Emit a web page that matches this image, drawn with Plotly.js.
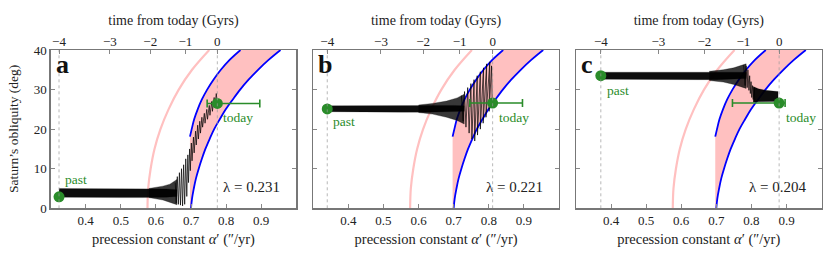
<!DOCTYPE html>
<html>
<head>
<meta charset="utf-8">
<script src="https://cdn.plot.ly/plotly-3.0.1.min.js"></script>
<style>html,body{margin:0;padding:0;background:#fff;}#chart{width:831px;height:254px;}</style>
</head>
<body>
<div id="chart"></div>
<script>
// ---------- data ----------
const alphaTicks = [0.4, 0.5, 0.6, 0.7, 0.8, 0.9];
const obliquityTicks = [0, 10, 20, 30, 40];
const timeTickText = ['\u22124', '\u22123', '\u22122', '\u22121', '0'];
const timeTickAlphaA = [0.324, 0.469, 0.584, 0.684, 0.775];
const timeTickAlphaB = [0.340, 0.493, 0.613, 0.717, 0.811];
const timeTickAlphaC = [0.371, 0.535, 0.666, 0.777, 0.879];

// light pink resonance curve (obliquity, alpha)
const pinkCurveEps = [0, 5, 10, 15, 20, 25, 30, 35, 40];
const pinkCurveAlpha = [0.576, 0.578, 0.585, 0.596, 0.613, 0.636, 0.665, 0.703, 0.752];

// blue separatrix curves
const outerEps = [0, 2.5, 5, 7.5, 10, 12.5, 15, 17.5, 20, 22.5, 25, 27.5, 30, 32.5, 35, 37.5, 40];
const outerAlpha = [0.700, 0.703, 0.708, 0.714, 0.722, 0.731, 0.741, 0.753, 0.766, 0.782, 0.799, 0.819, 0.840, 0.864, 0.891, 0.921, 0.955];
const innerEps = [18.1, 20, 22.5, 25, 27.5, 30, 32.5, 35, 37.5, 40];
const innerAlpha = [0.697, 0.702, 0.709, 0.719, 0.731, 0.746, 0.764, 0.785, 0.810, 0.841];

// observed present-day alpha range
const todayAlphaRange = [0.746, 0.896];

// panel a trajectory
const pastA = [0.324, 2.9], todayA = [0.775, 26.5];
const coreAAlpha = [0.324, 0.40, 0.50, 0.56, 0.60, 0.63, 0.66];
const coreAUpper = [5.0, 5.0, 5.0, 5.0, 5.0, 4.9, 4.7];
const coreALower = [2.8, 2.8, 2.7, 2.7, 2.7, 2.8, 3.0];
const flareAAlpha = [0.58, 0.60, 0.62, 0.64, 0.65, 0.66];
const flareAUpper = [5.0, 5.3, 5.6, 6.1, 6.6, 7.3];
const flareALower = [2.7, 2.4, 2.1, 1.6, 1.2, 0.9];
const zigAAlpha = [0.655, 0.658, 0.661, 0.664, 0.667, 0.670, 0.673, 0.676, 0.679, 0.682, 0.685, 0.688, 0.691, 0.693, 0.696, 0.698, 0.701, 0.703, 0.707, 0.709, 0.713, 0.715, 0.719, 0.721, 0.725, 0.727, 0.731, 0.733, 0.738, 0.740, 0.745, 0.747, 0.752, 0.754, 0.759, 0.761, 0.766, 0.768, 0.772, 0.775];
const zigAEps = [6.5, 1.3, 8.0, 1.0, 9.0, 0.8, 10.0, 0.6, 11.0, 1.0, 12.5, 3.0, 13.5, 6.5, 15.0, 9.5, 16.5, 12.0, 18.0, 14.0, 19.5, 16.0, 21.0, 17.5, 22.0, 19.0, 23.0, 20.5, 24.0, 21.5, 25.0, 22.5, 26.0, 23.5, 27.0, 24.5, 28.0, 25.5, 29.0, 26.5];

// panel b trajectory
const pastB = [0.340, 25.1], todayB = [0.811, 26.6];
const coreBAlpha = [0.340, 0.45, 0.55, 0.62, 0.66, 0.70, 0.73];
const coreBUpper = [25.9, 26.0, 26.0, 26.0, 26.0, 26.0, 25.9];
const coreBLower = [24.4, 24.3, 24.3, 24.3, 24.3, 24.4, 24.5];
const flareBAlpha = [0.60, 0.64, 0.68, 0.71, 0.73];
const flareBUpper = [26.1, 26.5, 27.1, 27.9, 28.8];
const flareBLower = [24.2, 23.8, 23.0, 22.2, 21.3];
const zigBAlpha = [0.722, 0.727, 0.731, 0.735, 0.740, 0.744, 0.749, 0.752, 0.758, 0.760, 0.767, 0.768, 0.776, 0.776, 0.785, 0.784, 0.794, 0.792, 0.803, 0.801, 0.808, 0.810, 0.811];
const zigBEps = [28.5, 22.0, 29.5, 20.5, 30.5, 19.0, 31.5, 17.5, 32.5, 17.0, 33.5, 18.5, 34.5, 20.0, 35.5, 21.5, 36.5, 23.0, 37.0, 24.5, 36.0, 25.5, 26.6];

// panel c trajectory
const pastC = [0.371, 33.5], todayC = [0.879, 26.6];
const coreC1Alpha = [0.371, 0.45, 0.55, 0.65, 0.70, 0.74, 0.785];
const coreC1Upper = [34.4, 34.4, 34.5, 34.5, 34.5, 34.5, 34.4];
const coreC1Lower = [32.6, 32.6, 32.5, 32.5, 32.5, 32.6, 32.8];
const flareC1Alpha = [0.68, 0.72, 0.75, 0.77, 0.785];
const flareC1Upper = [34.6, 35.0, 35.5, 36.0, 36.5];
const flareC1Lower = [32.3, 31.9, 31.3, 30.8, 30.3];
const zigCAlpha = [0.778, 0.782, 0.785, 0.788, 0.790, 0.793, 0.795, 0.797, 0.799, 0.801, 0.803, 0.805, 0.808, 0.810];
const zigCEps = [36.2, 31.0, 36.0, 30.5, 35.0, 29.8, 33.5, 29.0, 32.0, 28.0, 31.0, 27.5, 30.5, 27.0];
const coreC2Alpha = [0.805, 0.82, 0.84, 0.86, 0.876];
const coreC2Upper = [30.8, 30.2, 29.8, 29.6, 29.5];
const coreC2Lower = [26.8, 26.9, 27.0, 27.0, 27.0];

const panelLetters = ['a', 'b', 'c'];
const lambdaText = ['\u03bb = 0.231', '\u03bb = 0.221', '\u03bb = 0.204'];

// ---------- drawing ----------
const FONT = 'Liberation Serif';
const GREEN = '#2a8c2a';
const BLUE = '#0000ff';
const PINK = '#ffc0c0';
const traces = [];
const annotations = [];

function bandPolygon(a, up, lo) {
  return { x: a.concat(a.slice().reverse()), y: up.concat(lo.slice().reverse()) };
}

function panel(i, timeTicks, past, today, cores, flares, zigs) {
  const xs = i === 0 ? 'x' : 'x' + (i + 1);
  const ys = i === 0 ? 'y' : 'y' + (i + 1);
  const xt = 'x' + (i + 4);
  const polyX = [innerAlpha[0]].concat(innerAlpha, outerAlpha.slice().reverse());
  const polyY = [outerEps[0]].concat(innerEps, outerEps.slice().reverse());
  traces.push({ x: polyX, y: polyY, xaxis: xs, yaxis: ys, mode: 'lines', fill: 'toself', fillcolor: PINK, line: { width: 0 }, hoverinfo: 'skip' });
  traces.push({ x: pinkCurveAlpha, y: pinkCurveEps, xaxis: xs, yaxis: ys, mode: 'lines', line: { color: PINK, width: 2.2, shape: 'spline' } });
  traces.push({ x: outerAlpha, y: outerEps, xaxis: xs, yaxis: ys, mode: 'lines', line: { color: BLUE, width: 1.8, shape: 'spline' } });
  traces.push({ x: innerAlpha, y: innerEps, xaxis: xs, yaxis: ys, mode: 'lines', line: { color: BLUE, width: 1.8, shape: 'spline' } });
  [timeTicks[0], timeTicks[timeTicks.length - 1]].forEach(function (a) {
    traces.push({ x: [a, a], y: [obliquityTicks[0], obliquityTicks[obliquityTicks.length - 1]], xaxis: xt, yaxis: ys, mode: 'lines', line: { color: '#999', width: 0.7, dash: 'dot' } });
  });
  flares.forEach(function (b) {
    const p = bandPolygon(b[0], b[1], b[2]);
    traces.push({ x: p.x, y: p.y, xaxis: xs, yaxis: ys, mode: 'lines', fill: 'toself', fillcolor: 'rgba(0,0,0,0.78)', line: { color: 'rgba(0,0,0,0.6)', width: 0.5 } });
  });
  cores.forEach(function (b) {
    const p = bandPolygon(b[0], b[1], b[2]);
    traces.push({ x: p.x, y: p.y, xaxis: xs, yaxis: ys, mode: 'lines', fill: 'toself', fillcolor: 'rgba(0,0,0,0.95)', line: { color: 'rgba(0,0,0,0.5)', width: 0.4 } });
  });
  zigs.forEach(function (z) {
    traces.push({ x: z[0], y: z[1], xaxis: xs, yaxis: ys, mode: 'lines', line: { color: '#000', width: 0.7 } });
  });
  traces.push({ x: [today[0]], y: [today[1]], xaxis: xs, yaxis: ys, mode: 'markers', marker: { color: GREEN, size: 11 },
    error_x: { type: 'data', symmetric: false, array: [todayAlphaRange[1] - today[0]], arrayminus: [today[0] - todayAlphaRange[0]], color: GREEN, thickness: 1.6, width: 4 } });
  traces.push({ x: [past[0]], y: [past[1]], xaxis: xs, yaxis: ys, mode: 'markers', marker: { color: GREEN, size: 11 } });

  annotations.push({ xref: xs, yref: ys, x: 0.309, y: 40, xanchor: 'left', yanchor: 'top', yshift: 2, text: '<b>' + panelLetters[i] + '</b>', showarrow: false, font: { family: FONT, size: 26, color: '#111' } });
  annotations.push({ xref: xs, yref: ys, x: 0.960, y: 5.3, xanchor: 'right', yanchor: 'middle', text: lambdaText[i], showarrow: false, font: { family: FONT, size: 15, color: '#222' } });
}

panel(0, timeTickAlphaA, pastA, todayA, [[coreAAlpha, coreAUpper, coreALower]], [[flareAAlpha, flareAUpper, flareALower]], [[zigAAlpha, zigAEps]]);
panel(1, timeTickAlphaB, pastB, todayB, [[coreBAlpha, coreBUpper, coreBLower]], [[flareBAlpha, flareBUpper, flareBLower]], [[zigBAlpha, zigBEps]]);
panel(2, timeTickAlphaC, pastC, todayC, [[coreC1Alpha, coreC1Upper, coreC1Lower], [coreC2Alpha, coreC2Upper, coreC2Lower]], [[flareC1Alpha, flareC1Upper, flareC1Lower]], [[zigCAlpha, zigCEps]]);

const labelFont = { family: FONT, size: 13.5, color: GREEN };
[['x', 'y', 0.334, 7.2, 0.786, 23.0], ['x2', 'y2', 0.352, 22.0, 0.823, 23.0], ['x3', 'y3', 0.383, 29.8, 0.892, 23.0]].forEach(function (p) {
  annotations.push({ xref: p[0], yref: p[1], x: p[2], y: p[3], xanchor: 'left', yanchor: 'middle', text: 'past', showarrow: false, font: labelFont });
  annotations.push({ xref: p[0], yref: p[1], x: p[4], y: p[5], xanchor: 'left', yanchor: 'middle', text: 'today', showarrow: false, font: labelFont });
});
// y-axis title
annotations.push({ xref: 'paper', yref: 'paper', x: 13 / 831, y: 1 - 129 / 254, xanchor: 'center', yanchor: 'middle', textangle: -90,
  text: 'Saturn\u2019s obliquity (deg)', showarrow: false, font: { family: FONT, size: 13.5, color: '#222' } });

const W = 831;
const doms = [[50.6 / W, 296.3 / W], [313.2 / W, 559 / W], [575.9 / W, 821.6 / W]];
const yDom = [1 - 208.3 / 254, 1 - 50 / 254];
const tickFont = { family: FONT, size: 13, color: '#222' };
const layout = {
  width: 831, height: 254, margin: { l: 0, r: 0, t: 0, b: 0 },
  paper_bgcolor: '#fff', plot_bgcolor: '#fff', showlegend: false,
  font: { family: FONT, color: '#222' }, annotations: annotations
};
const topTicks = [timeTickAlphaA, timeTickAlphaB, timeTickAlphaC];
for (let i = 0; i < 3; i++) {
  const sx = i === 0 ? '' : String(i + 1);
  const ysuf = i === 0 ? 'y' : 'y' + (i + 1);
  layout['xaxis' + sx] = {
    domain: doms[i], anchor: ysuf, range: [0.3, 1.0], tickvals: alphaTicks, ticktext: alphaTicks.map(function (v) { return v.toFixed(1); }),
    ticks: 'inside', ticklen: 4, tickcolor: '#888', tickwidth: 1, showline: true, linecolor: '#777', linewidth: 1.3, mirror: true,
    showgrid: false, zeroline: false, tickfont: tickFont,
    title: { text: 'precession constant <i>\u03b1</i>\u2032 (\u2033/yr)', font: { family: FONT, size: 14.5, color: '#222' }, standoff: 6 }
  };
  layout['yaxis' + sx] = {
    domain: yDom, anchor: 'x' + sx, range: [0, 40], tickvals: obliquityTicks, ticks: 'inside', ticklen: 4, tickcolor: '#888',
    showline: true, linecolor: '#777', linewidth: 1.3, mirror: 'ticks', showgrid: false, zeroline: false,
    showticklabels: i === 0, tickfont: tickFont
  };
  layout['xaxis' + (i + 4)] = {
    overlaying: 'x' + sx, anchor: ysuf, side: 'top', range: [0.3, 1.0], tickvals: topTicks[i], ticktext: timeTickText,
    ticks: 'inside', ticklen: 4, tickcolor: '#888', showline: false, showgrid: false, zeroline: false, tickfont: tickFont,
    title: { text: 'time from today (Gyrs)', font: { family: FONT, size: 14, color: '#222' }, standoff: 5 }
  };
}
Plotly.newPlot('chart', traces, layout, { displayModeBar: false, staticPlot: true });
</script>
</body>
</html>
